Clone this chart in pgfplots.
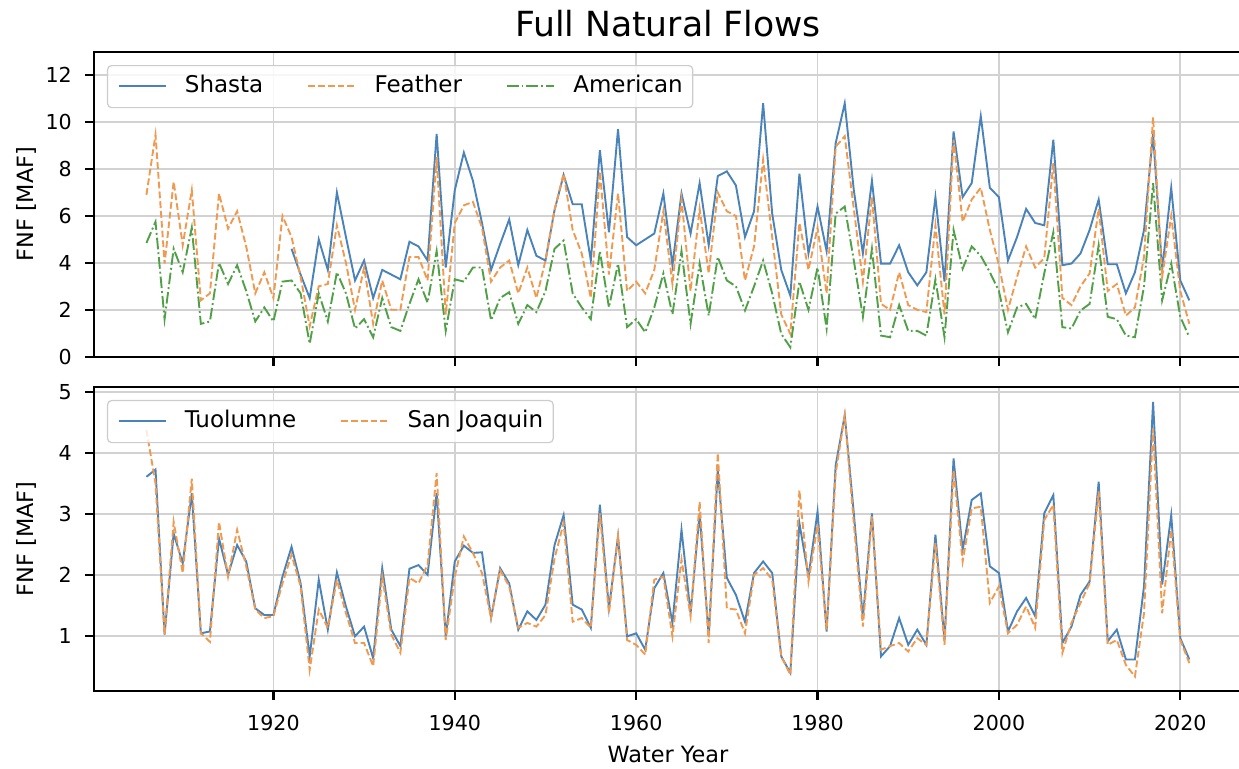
\documentclass[border=0pt]{standalone}
\usepackage{fontspec}
\setmainfont{DejaVu Sans}
\usepackage{pgfplots}
\pgfplotsset{compat=1.18}
\usepackage{pgfplotstable}

\definecolor{cBlue}{HTML}{4A82BA}
\definecolor{cOrange}{HTML}{F09A50}
\definecolor{cGreen}{HTML}{4FA046}

\newcommand\tk{\fontsize{10.3pt}{12pt}\selectfont}
\newcommand\lbl{\fontsize{11.2pt}{13pt}\selectfont}
\newcommand\lgd{\fontsize{11.5pt}{13pt}\selectfont}

% Full natural flows, million acre-feet, by water year
\pgfplotstableread{
year shasta feather american
1906 nan 6.9 4.85
1907 nan 9.46 5.75
1908 nan 3.97 1.6
1909 nan 7.46 4.6
1910 nan 4.75 3.6
1911 nan 7.1 5.5
1912 nan 2.4 1.4
1913 nan 2.7 1.5
1914 nan 6.96 4.0
1915 nan 5.46 3.1
1916 nan 6.2 3.9
1917 nan 4.7 2.8
1918 nan 2.7 1.5
1919 nan 3.6 2.1
1920 nan 2.5 1.5
1921 nan 6.0 3.2
1922 4.6 5.1 3.25
1923 3.5 3.4 2.7
1924 2.5 1.3 0.55
1925 5.0 3.0 2.7
1926 3.7 3.1 1.5
1927 7.0 5.6 3.6
1928 5.1 4.0 2.7
1929 3.25 2.0 1.2
1930 4.1 3.8 1.6
1931 2.5 1.4 0.83
1932 3.7 3.25 2.5
1933 3.5 2.0 1.26
1934 3.3 2.0 1.1
1935 4.9 4.25 2.25
1936 4.7 4.25 3.3
1937 4.1 3.25 2.3
1938 9.5 8.5 4.5
1939 3.8 1.8 1.1
1940 7.1 5.7 3.3
1941 8.7 6.45 3.2
1942 7.5 6.6 3.8
1943 5.7 5.5 3.8
1944 3.7 3.2 1.55
1945 4.8 3.8 2.5
1946 5.85 4.1 2.75
1947 3.9 2.7 1.4
1948 5.4 3.8 2.2
1949 4.3 2.5 1.9
1950 4.1 4.1 2.8
1951 6.25 6.25 4.6
1952 7.75 7.8 4.95
1953 6.5 5.4 2.7
1954 6.5 4.4 2.1
1955 4.1 2.5 1.6
1956 8.8 7.9 4.5
1957 5.3 3.5 2.1
1958 9.7 6.96 3.97
1959 5.1 2.8 1.26
1960 4.75 3.2 1.6
1961 5.0 2.7 1.04
1962 5.25 3.7 2.1
1963 6.96 6.2 3.55
1964 3.9 3.1 1.8
1965 6.96 6.7 4.5
1966 5.25 2.8 1.4
1967 7.4 6.3 3.97
1968 4.75 3.55 1.75
1969 7.7 7.0 4.25
1970 7.9 6.2 3.25
1971 7.3 6.0 3.0
1972 5.1 3.25 1.97
1973 6.2 4.7 3.0
1974 10.8 8.4 4.1
1975 6.1 5.1 2.7
1976 3.7 1.8 0.97
1977 2.6 0.97 0.4
1978 7.8 5.7 3.2
1979 4.4 3.7 2.0
1980 6.4 5.5 3.8
1981 4.5 2.7 1.2
1982 9.1 8.95 6.1
1983 10.8 9.4 6.4
1984 7.1 6.3 4.1
1985 4.4 3.2 1.7
1986 7.5 6.8 4.6
1987 3.97 2.25 0.9
1988 3.97 2.0 0.83
1989 4.75 3.6 2.2
1990 3.6 2.2 1.1
1991 3.04 2.0 1.1
1992 3.6 1.9 0.9
1993 6.8 5.6 3.3
1994 3.2 1.8 0.83
1995 9.6 9.25 5.4
1996 6.8 5.75 3.75
1997 7.4 6.7 4.7
1998 10.25 7.2 4.3
1999 7.2 5.4 3.6
2000 6.8 3.9 2.8
2001 4.1 2.0 1.04
2002 5.1 3.4 2.1
2003 6.3 4.7 2.25
2004 5.7 3.8 1.6
2005 5.6 4.2 3.55
2006 9.25 8.25 5.3
2007 3.9 2.5 1.26
2008 3.97 2.2 1.2
2009 4.4 3.0 1.97
2010 5.4 3.55 2.25
2011 6.7 6.3 4.75
2012 3.94 2.8 1.7
2013 3.94 3.1 1.6
2014 2.7 1.75 0.9
2015 3.6 2.1 0.83
2016 5.4 4.25 3.0
2017 9.5 10.2 7.4
2018 3.7 3.4 2.4
2019 7.2 6.0 3.97
2020 3.25 2.8 1.7
2021 2.4 1.4 0.83
}\northtable

\pgfplotstableread{
year tuolumne sanjoaquin
1906 3.61 4.38
1907 3.73 3.5
1908 1.02 1.02
1909 2.68 2.87
1910 2.19 2.03
1911 3.34 3.58
1912 1.04 1.04
1913 1.07 0.9
1914 2.6 2.87
1915 2.0 1.97
1916 2.49 2.74
1917 2.22 2.14
1918 1.45 1.43
1919 1.34 1.29
1920 1.34 1.32
1921 1.97 1.86
1922 2.46 2.33
1923 1.86 1.81
1924 0.66 0.44
1925 1.92 1.43
1926 1.1 1.13
1927 2.04 1.92
1928 1.48 1.37
1929 0.99 0.88
1930 1.15 0.88
1931 0.63 0.5
1932 2.11 1.97
1933 1.1 1.02
1934 0.83 0.72
1935 2.1 1.95
1936 2.16 1.86
1937 2.0 2.16
1938 3.34 3.67
1939 0.99 0.93
1940 2.22 1.97
1941 2.48 2.63
1942 2.36 2.36
1943 2.37 2.03
1944 1.29 1.29
1945 2.11 2.08
1946 1.86 1.81
1947 1.1 1.13
1948 1.4 1.21
1949 1.26 1.15
1950 1.51 1.34
1951 2.49 2.27
1952 2.98 2.85
1953 1.51 1.23
1954 1.43 1.29
1955 1.13 1.13
1956 3.15 3.01
1957 1.45 1.37
1958 2.63 2.63
1959 0.99 0.93
1960 1.04 0.85
1961 0.77 0.69
1962 1.78 1.92
1963 2.03 1.97
1964 1.21 0.99
1965 2.74 2.25
1966 1.37 1.32
1967 3.01 3.2
1968 0.99 0.88
1969 3.72 4.0
1970 1.95 1.45
1971 1.67 1.43
1972 1.23 1.04
1973 2.03 2.0
1974 2.22 2.11
1975 2.03 1.92
1976 0.66 0.66
1977 0.39 0.36
1978 2.85 3.39
1979 1.97 1.89
1980 3.04 2.82
1981 1.07 1.1
1982 3.8 3.67
1983 4.62 4.62
1984 3.01 2.85
1985 1.29 1.15
1986 3.01 2.96
1987 0.66 0.77
1988 0.83 0.83
1989 1.29 0.88
1990 0.85 0.74
1991 1.1 0.96
1992 0.85 0.85
1993 2.66 2.52
1994 0.93 0.85
1995 3.91 3.72
1996 2.41 2.22
1997 3.23 3.09
1998 3.34 3.12
1999 2.14 1.54
2000 2.03 1.81
2001 1.07 1.04
2002 1.4 1.18
2003 1.62 1.48
2004 1.32 1.13
2005 3.01 2.9
2006 3.31 3.15
2007 0.88 0.72
2008 1.15 1.21
2009 1.67 1.54
2010 1.89 1.86
2011 3.53 3.37
2012 0.91 0.85
2013 1.1 0.93
2014 0.61 0.52
2015 0.61 0.33
2016 1.81 1.37
2017 4.84 4.4
2018 1.84 1.37
2019 2.98 2.74
2020 0.96 0.93
2021 0.61 0.55
}\southtable

\pgfplotsset{
  flowaxis/.style={
    scale only axis,
    width=573.6pt,
    xmin=1900.25, xmax=2026.75,
    xtick={1920,1940,...,2020},
    tick pos=left,
    tick align=outside,
    major tick length=4.5pt,
    major tick style={black, line width=1.1pt},
    axis line style={line width=1.1pt},
    grid=major,
    major grid style={line width=0.8pt, gray!35},
    /pgf/number format/assume math mode=true,
    /pgf/number format/1000 sep={},
    ticklabel style={font=\tk},
    xticklabel style={anchor=base},
    xticklabel shift=15.5pt,
    yticklabel shift=3.2pt,
    unbounded coords=jump,
    legend cell align=left,
    legend style={
      at={(axis description cs:0,1)}, anchor=north west,
      xshift=6.35pt, yshift=-6.65pt,
      font=\lgd,
      draw=gray!40, line width=0.6pt, rounded corners=2pt,
      fill=white, fill opacity=0.8, text opacity=1, draw opacity=1,
      inner xsep=5pt, inner ysep=5pt,
      nodes={inner sep=0pt, text height=8.6pt, text depth=2.4pt},
      /tikz/every odd column/.append style={column sep=9.2pt},
      /tikz/every even column/.append style={column sep=22pt},
    },
    legend image code/.code={\draw[##1, opacity=1] (0pt,0.3pt) -- (23.5pt,0.3pt);},
  },
  sh/.style={cBlue, line width=0.95pt},
  fe/.style={cOrange, line width=0.95pt, dash pattern=on 3.4pt off 1.5pt},
  am/.style={cGreen, line width=0.95pt, dash pattern=on 5.8pt off 1.5pt on 0.95pt off 1.5pt},
}

\begin{document}
\begin{tikzpicture}
\useasboundingbox (0,0) rectangle (619.5pt,384pt);

\node[anchor=base, font=\fontsize{17.3pt}{20pt}\selectfont] at (334pt,366pt) {Full Natural Flows};

\begin{axis}[flowaxis,
  at={(47.15pt,205.65pt)}, anchor=south west,
  height=152.5pt,
  ymin=0, ymax=13,
  ytick={0,2,...,12},
  xticklabels={},
  legend columns=3]
\addplot[sh] table[x=year, y=shasta] {\northtable};
\addplot[fe] table[x=year, y=feather] {\northtable};
\addplot[am] table[x=year, y=american] {\northtable};
\legend{Shasta, Feather, American}
\end{axis}

\begin{axis}[flowaxis,
  at={(47.15pt,38.65pt)}, anchor=south west,
  height=152pt,
  ymin=0.097, ymax=5.09,
  ytick={1,2,3,4,5},
  legend columns=2]
\addplot[sh] table[x=year, y=tuolumne] {\southtable};
\addplot[fe] table[x=year, y=sanjoaquin] {\southtable};
\legend{Tuolumne, San Joaquin}
\end{axis}

\node[rotate=90, anchor=base, font=\lbl] at (16.75pt,281.9pt) {FNF [MAF]};
\node[rotate=90, anchor=base, font=\lbl] at (16.75pt,114.65pt) {FNF [MAF]};
\node[anchor=base, font=\lbl] at (334pt,3pt) {Water Year};
\end{tikzpicture}
\end{document}
